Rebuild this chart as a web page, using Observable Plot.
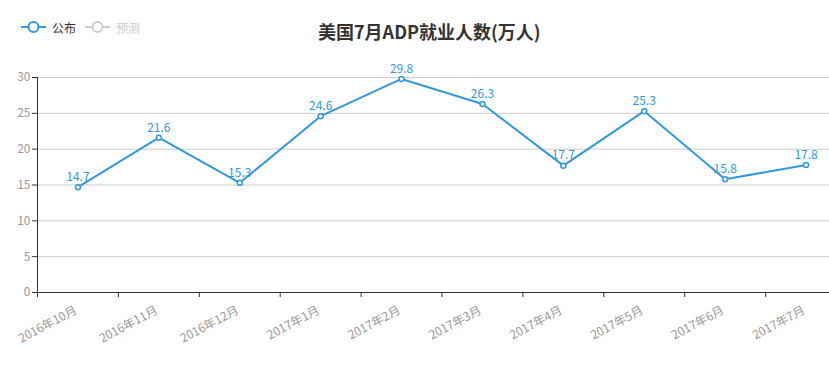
<!DOCTYPE html>
<html><head><meta charset="utf-8">
<script src="https://cdn.jsdelivr.net/npm/d3@7"></script>
<script src="https://cdn.jsdelivr.net/npm/@observablehq/plot@0.6"></script>
<style>
body{margin:0;background:#fff;overflow:hidden}
#wrap{position:relative;width:829px;height:378px;overflow:hidden;font-family:"Microsoft YaHei","Noto Sans CJK SC",sans-serif}
#head{position:relative;height:60px}
#title{position:absolute;left:318px;top:19px;line-height:24px;font-size:18px;font-weight:bold;color:#333;white-space:nowrap}
.leg{position:absolute;top:19px;height:16px;display:flex;align-items:center;font-size:12px;white-space:nowrap}
.leg svg{margin-right:6px}
</style></head>
<body><div id="wrap"><div id="head"></div><div id="chart"></div></div>
<script>
const title = "美国7月ADP就业人数(万人)";
const seriesNames = ["公布", "预测"];
const months = ["2016年10月","2016年11月","2016年12月","2017年1月","2017年2月","2017年3月","2017年4月","2017年5月","2017年6月","2017年7月"];
const published = [14.7, 21.6, 15.3, 24.6, 29.8, 26.3, 17.7, 25.3, 15.8, 17.8];
const yTicks = [0, 5, 10, 15, 20, 25, 30];

const blue = "#3398DB";
const font = '"Microsoft YaHei","Noto Sans CJK SC",sans-serif';

// header: title + legend
const head = document.getElementById("head");
const t = document.createElement("div"); t.id = "title"; t.textContent = title; head.appendChild(t);
const legColors = [[blue, "#333"], ["#ccc", "#ccc"]];
const legLeft = [21, 85];
seriesNames.forEach((name, i) => {
  const d = document.createElement("div"); d.className = "leg"; d.style.left = legLeft[i] + "px"; d.style.color = legColors[i][1];
  d.innerHTML = `<svg width="25" height="14"><line x1="0" x2="25" y1="7" y2="7" stroke="${legColors[i][0]}" stroke-width="2"/><circle cx="12.5" cy="7" r="5" fill="#fff" stroke="${legColors[i][0]}" stroke-width="2"/></svg>${name}`;
  head.appendChild(d);
});

const data = months.map((m, i) => ({month: m, value: published[i]}));
const W = 829, H = 318, mL = 37, mR = -17, mT = 17, mB = 86;
const half = (W - mR - mL) / months.length / 2;

const chart = Plot.plot({
  width: W, height: H, marginLeft: mL, marginRight: mR, marginTop: mT, marginBottom: mB,
  style: {fontFamily: font, fontSize: "12px", background: "#fff"},
  x: {type: "band", domain: months, padding: 0, round: false},
  y: {domain: [0, 30]},
  marks: [
    Plot.gridY(yTicks.slice(1), {stroke: "#ccc", strokeOpacity: 1}),
    Plot.axisY(yTicks, {tickSize: 5, stroke: "#333", fill: "#999", tickPadding: 2, label: null, fontSize: 12}),
    Plot.axisX(months, {tickSize: 5, dx: -half, stroke: "#333", tickFormat: () => "", label: null}),
    Plot.axisX(months, {tickSize: 0, tickRotate: -28, fill: "#999", tickPadding: 17, dx: -2, label: null, fontSize: 12}),
    Plot.frame({anchor: "left", stroke: "#333"}),
    Plot.frame({anchor: "bottom", stroke: "#333"}),
    Plot.line(data, {x: "month", y: "value", stroke: blue, strokeWidth: 2}),
    Plot.dot(data, {x: "month", y: "value", r: 2.5, fill: "#fff", stroke: blue, strokeWidth: 1.5}),
    Plot.text(data, {x: "month", y: "value", text: d => d.value.toFixed(1), dy: -10, fill: blue, fontSize: 12})
  ]
});
document.getElementById("chart").appendChild(chart);
</script></body></html>
